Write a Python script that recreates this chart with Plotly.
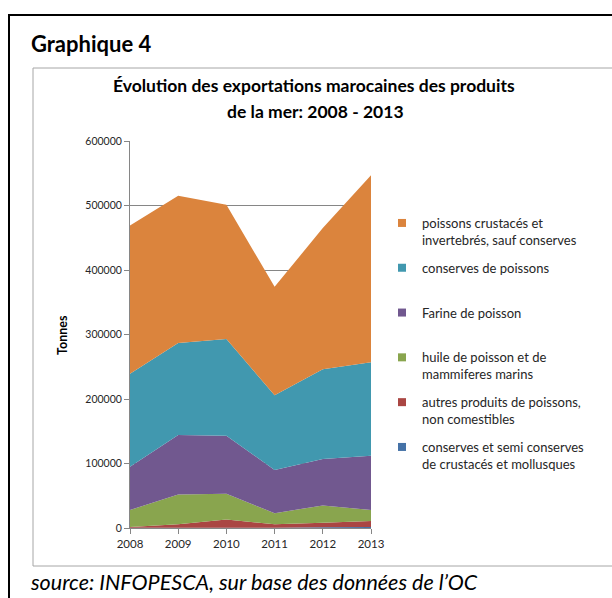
import plotly.graph_objects as go

years = [2008, 2009, 2010, 2011, 2012, 2013]

# Series values (tonnes), stacked bottom -> top
conserves_crustaces = [500, 500, 500, 500, 1000, 1500]
autres_produits = [1000, 5500, 12500, 5500, 7000, 9500]
huile_poisson = [26500, 46000, 40000, 17000, 27000, 17000]
farine_poisson = [67000, 92000, 90000, 67000, 72000, 84000]
conserves_poissons = [144000, 143000, 150000, 116000, 139000, 145000]
poissons_frais = [230000, 228000, 208000, 168000, 219000, 290000]

series_names = [
    "conserves et semi conserves<br>de crustacés et mollusques",
    "autres produits de poissons,<br>non comestibles",
    "huile de poisson et de<br>mammiferes marins",
    "Farine de poisson<br> ",
    "conserves de poissons<br> ",
    "poissons crustacés et<br>invertebrés, sauf conserves",
]
series_values = [conserves_crustaces, autres_produits, huile_poisson,
                 farine_poisson, conserves_poissons, poissons_frais]
colors = ["#4572A7", "#AA4643", "#89A54E", "#71588F", "#4198AF", "#DB843D"]

y_ticks = [0, 100000, 200000, 300000, 400000, 500000, 600000]

FONT = "Lato"
TXT = "#262626"

# plot area in pixels
L, R, T, B = 130, 371, 141, 528
W, H = 612, 598


def px(x):
    return (x - L) / (R - L)


def py(y):
    return (B - y) / (B - T)


fig = go.Figure()
for name, vals, col in zip(series_names, series_values, colors):
    fig.add_trace(go.Scatter(
        x=years, y=vals, name=name, stackgroup="one", mode="none",
        fillcolor=col, line=dict(width=0), showlegend=False,
        hovertemplate="%{x}: %{y}<extra></extra>",
    ))
# legend entries, top of stack first
for i, (name, col) in enumerate(zip(series_names[::-1], colors[::-1])):
    fig.add_trace(go.Scatter(
        x=[None], y=[None], name=name, mode="markers",
        marker=dict(symbol="square", size=8, color=col),
        legendgroup="g%d" % i, showlegend=True,
    ))

shapes = [
    dict(type="rect", xref="paper", yref="paper", x0=px(9), x1=px(616),
         y0=py(602), y1=py(15), line=dict(color="black", width=2),
         fillcolor="rgba(0,0,0,0)", layer="below"),
    dict(type="rect", xref="paper", yref="paper", x0=px(33), x1=px(616),
         y0=py(566), y1=py(68), line=dict(color="#A6A6A6", width=1),
         fillcolor="rgba(0,0,0,0)", layer="below"),
]

annotations = [
    dict(text="<b>Graphique 4</b>", xref="paper", yref="paper",
         x=px(29), y=py(43), xanchor="left", yanchor="middle",
         showarrow=False, font=dict(family=FONT, size=22, color="black")),
    dict(text="<b>Évolution des exportations marocaines des produits</b>",
         xref="paper", yref="paper", x=px(314), y=py(86),
         xanchor="center", yanchor="middle",
         showarrow=False, font=dict(family=FONT, size=17.5, color="black")),
    dict(text="<b>de la mer: 2008 - 2013</b>",
         xref="paper", yref="paper", x=px(315), y=py(112),
         xanchor="center", yanchor="middle",
         showarrow=False, font=dict(family=FONT, size=17.5, color="black")),
    dict(text="<b>Tonnes</b>", xref="paper", yref="paper",
         x=px(62), y=py(335), xanchor="center", yanchor="middle",
         textangle=-90, showarrow=False,
         font=dict(family=FONT, size=12.5, color="black")),
    dict(text="<i>source: INFOPESCA, sur base des données de l’OC</i>",
         xref="paper", yref="paper", x=px(28), y=py(582),
         xanchor="left", yanchor="middle", showarrow=False,
         font=dict(family=FONT, size=21.5, color="black")),
]

fig.update_layout(
    width=W, height=H,
    margin=dict(l=L, r=W - R, t=T, b=H - B),
    paper_bgcolor="white", plot_bgcolor="white",
    font=dict(family=FONT, color=TXT, size=11),
    shapes=shapes, annotations=annotations,
    showlegend=True,
    legend=dict(
        x=px(382), y=py(208), xanchor="left", yanchor="top",
        traceorder="grouped", tracegroupgap=8,
        font=dict(family=FONT, size=13, color=TXT),
        valign="top", bgcolor="rgba(0,0,0,0)", itemclick=False,
    ),
    xaxis=dict(
        range=[2008, 2013], tickvals=years, ticktext=[str(y) for y in years],
        showgrid=False, showline=True, linecolor="#868686", linewidth=1,
        ticks="outside", ticklen=5, tickcolor="#868686",
        tickfont=dict(family=FONT, size=11.5, color=TXT), zeroline=False,
    ),
    yaxis=dict(
        range=[0, 600000], tickvals=y_ticks, ticktext=[str(v) for v in y_ticks],
        showgrid=True, gridcolor="#868686", gridwidth=1,
        showline=True, linecolor="#868686", linewidth=1,
        ticks="outside", ticklen=5, tickcolor="#868686",
        tickfont=dict(family=FONT, size=10.5, color=TXT), zeroline=False,
    ),
)

fig.write_html("out.html", config={"displayModeBar": False},
               post_script="document.body.style.margin='0px';document.body.style.overflow='hidden';")
